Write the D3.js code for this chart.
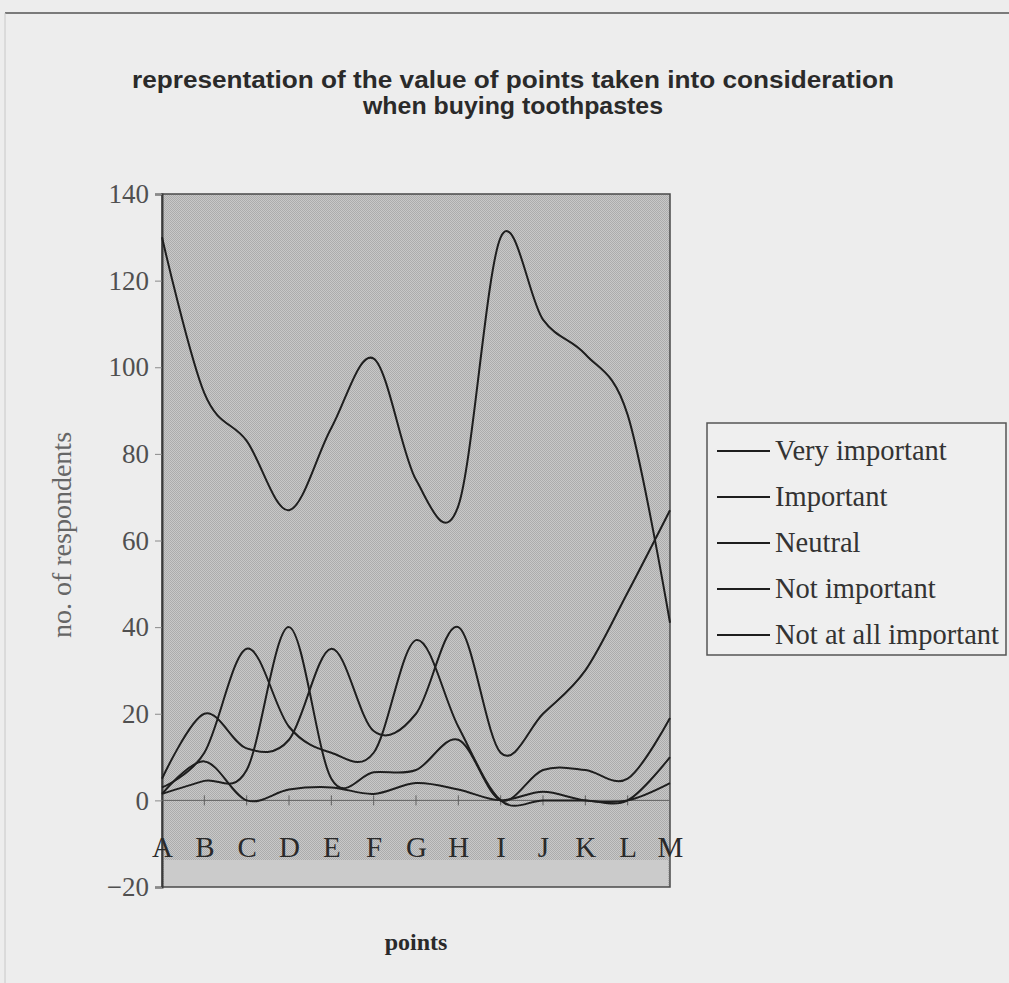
<!DOCTYPE html>
<html>
<head>
<meta charset="utf-8">
<script src="https://cdn.jsdelivr.net/npm/d3@7"></script>
<style>
  html, body { margin: 0; padding: 0; background: #ececec; }
  svg { display: block; }
</style>
</head>
<body>
<svg id="chart" width="1009" height="983"></svg>
<script>
// ---- data ----
const categories = ["A","B","C","D","E","F","G","H","I","J","K","L","M"];
const seriesNames = ["Very important","Important","Neutral","Not important","Not at all important"];
const veryImportant    = [130, 94, 83, 67, 86, 102, 74, 68, 130, 111, 103, 89, 41];
const important        = [3, 11, 35, 17, 11, 11, 37, 17, 0, 0, 0, 0, 10];
const neutral          = [1.5, 4.5, 7, 40, 5, 6.5, 7, 14, 0, 7, 7, 5, 19];
const notImportant     = [5, 20, 12, 14, 35, 16, 20, 40, 11, 20, 30, 48, 67];
const notAtAllImportant= [1.5, 9, 0, 2.5, 3, 1.5, 4, 2.5, 0, 2, 0, 0, 4];
const yTicks = [-20, 0, 20, 40, 60, 80, 100, 120, 140];
const titleLines = ["representation of the value of points taken into consideration", "when buying toothpastes"];
const yTitle = "no. of respondents";
const xTitle = "points";

const allSeries = [veryImportant, important, neutral, notImportant, notAtAllImportant];

// ---- layout ----
const svg = d3.select("#chart");
const plot = {left: 162, right: 670, top: 194, bottom: 887};

// page frame
svg.append("rect").attr("x",0).attr("y",0).attr("width",1009).attr("height",983).attr("fill","#ededed");
svg.append("line").attr("x1",5).attr("x2",1009).attr("y1",13).attr("y2",13).attr("stroke","#7a7a7a").attr("stroke-width",2);
svg.append("line").attr("x1",5).attr("x2",5).attr("y1",13).attr("y2",983).attr("stroke","#c8c8c8").attr("stroke-width",1);

// title
const title = svg.append("text").attr("text-anchor","middle")
  .attr("font-family","'Liberation Sans Narrow','Liberation Sans',sans-serif")
  .attr("font-weight","bold").attr("font-size",23).attr("fill","#2a2a2a");
title.selectAll("tspan").data(titleLines).join("tspan")
  .attr("x",513).attr("y",(d,i)=>[88,114][i])
  .attr("textLength",(d,i)=>[762,300][i]).attr("lengthAdjust","spacingAndGlyphs")
  .text(d=>d);

// scales
const x = d3.scalePoint().domain(categories).range([plot.left, plot.right]);
const y = d3.scaleLinear().domain([-20, 140]).range([plot.bottom, plot.top]);

// dither pattern for plot background
const defs = svg.append("defs");
const pat = defs.append("pattern").attr("id","dither").attr("patternUnits","userSpaceOnUse").attr("width",2).attr("height",2);
pat.append("rect").attr("width",2).attr("height",2).attr("fill","#c8c8c8");
pat.append("rect").attr("width",1).attr("height",1).attr("fill","#acacac");
pat.append("rect").attr("x",1).attr("y",1).attr("width",1).attr("height",1).attr("fill","#acacac");

svg.append("rect").attr("x",plot.left).attr("y",plot.top)
  .attr("width",plot.right-plot.left).attr("height",plot.bottom-plot.top)
  .attr("fill","url(#dither)");
// lighter band at the bottom of the plot
svg.append("rect").attr("x",plot.left+2).attr("y",860)
  .attr("width",plot.right-plot.left-4).attr("height",plot.bottom-860)
  .attr("fill","#cbcbcb");
svg.append("rect").attr("x",plot.left).attr("y",plot.top)
  .attr("width",plot.right-plot.left).attr("height",plot.bottom-plot.top)
  .attr("fill","none").attr("stroke","#4a4a4a").attr("stroke-width",1.5);

// y axis
const yAxis = svg.append("g").attr("transform",`translate(${plot.left},0)`)
  .call(d3.axisLeft(y).tickValues(yTicks).tickSize(7).tickPadding(6).tickFormat(d3.format("d")));
yAxis.select(".domain").attr("stroke","#3a3a3a").attr("stroke-width",2);
yAxis.selectAll(".tick line").attr("stroke","#8a8a8a");
yAxis.selectAll(".tick text").attr("font-family","'Liberation Serif',serif").attr("font-size",27).attr("fill","#505050");

// zero line + category ticks
svg.append("line").attr("x1",plot.left).attr("x2",plot.right).attr("y1",y(0)).attr("y2",y(0))
  .attr("stroke","#606060").attr("stroke-width",1);
svg.append("g").selectAll("line").data(categories.slice(1,-1)).join("line")
  .attr("x1",d=>x(d)).attr("x2",d=>x(d)).attr("y1",y(0)-5).attr("y2",y(0)+5)
  .attr("stroke","#606060").attr("stroke-width",1);

// category labels
const xAxis = svg.append("g").attr("transform",`translate(0,${y(0)})`)
  .call(d3.axisBottom(x).tickSize(0).tickPadding(36));
xAxis.select(".domain").remove();
xAxis.selectAll(".tick text").attr("font-family","'Liberation Serif',serif").attr("font-size",29).attr("fill","#2a2a2a");

// lines
const line = d3.line().x((d,i)=>x(categories[i])).y(d=>y(d)).curve(d3.curveCatmullRom.alpha(0));
svg.append("g").selectAll("path").data(allSeries).join("path")
  .attr("d",line).attr("fill","none").attr("stroke","#1e1e1e").attr("stroke-width",2);

// axis titles
svg.append("text").attr("transform","translate(71,535) rotate(-90)").attr("text-anchor","middle")
  .attr("font-family","'Liberation Serif',serif").attr("font-size",28).attr("fill","#666")
  .text(yTitle);
svg.append("text").attr("x",416).attr("y",950).attr("text-anchor","middle")
  .attr("font-family","'Liberation Serif',serif").attr("font-weight","bold").attr("font-size",24).attr("fill","#2a2a2a")
  .text(xTitle);

// legend
const lg = svg.append("g");
lg.append("rect").attr("x",707).attr("y",423).attr("width",299).attr("height",232)
  .attr("fill","#efefef").attr("stroke","#555").attr("stroke-width",1.5);
const rows = lg.selectAll("g.row").data(seriesNames).join("g").attr("class","row")
  .attr("transform",(d,i)=>`translate(0,${451 + i*46})`);
rows.append("line").attr("x1",717).attr("x2",770).attr("y1",0).attr("y2",0).attr("stroke","#1e1e1e").attr("stroke-width",2);
rows.append("text").attr("x",775).attr("y",9).attr("font-family","'Liberation Serif',serif")
  .attr("font-size",28.5).attr("fill","#333").text(d=>d);
</script>
</body>
</html>
